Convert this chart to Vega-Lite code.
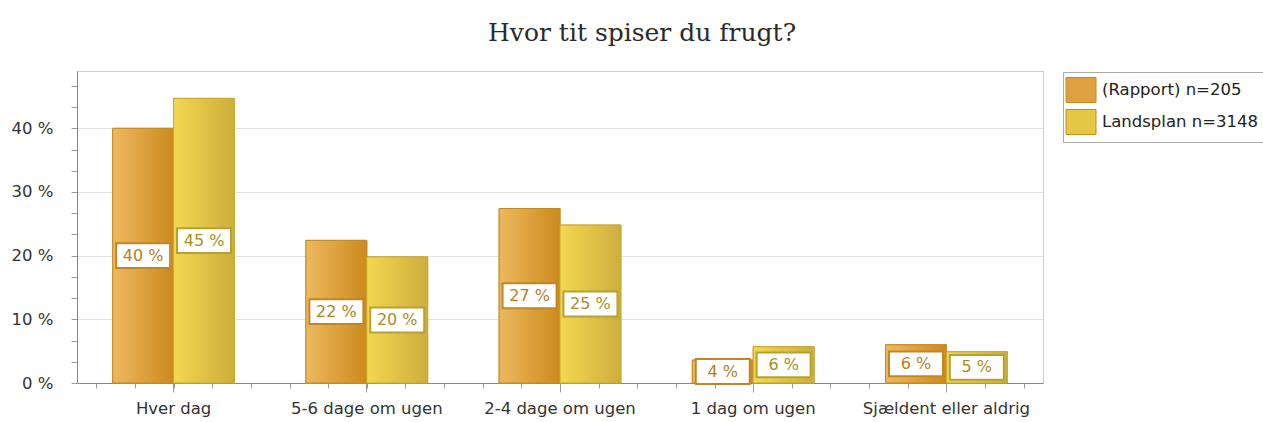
{
  "$schema": "https://vega.github.io/schema/vega-lite/v6.json",
  "width": 966,
  "height": 312,
  "autosize": "none",
  "padding": {"left": 77, "top": 71, "right": 220, "bottom": 39},
  "background": "white",
  "title": {
    "text": "Hvor tit spiser du frugt?",
    "font": "DejaVu Serif",
    "fontSize": 25,
    "fontWeight": "normal",
    "color": "#2a2a2a",
    "anchor": "middle",
    "dx": 82,
    "offset": 25
  },
  "config": {
    "view": {"stroke": "#cccccc"},
    "font": "DejaVu Sans"
  },
  "data": {
    "values": [
      {"cat": "Hver dag", "series": "(Rapport) n=205", "value": 40.0, "label": "40 %"},
      {"cat": "Hver dag", "series": "Landsplan n=3148", "value": 44.7, "label": "45 %"},
      {"cat": "5-6 dage om ugen", "series": "(Rapport) n=205", "value": 22.4, "label": "22 %"},
      {"cat": "5-6 dage om ugen", "series": "Landsplan n=3148", "value": 19.8, "label": "20 %"},
      {"cat": "2-4 dage om ugen", "series": "(Rapport) n=205", "value": 27.4, "label": "27 %"},
      {"cat": "2-4 dage om ugen", "series": "Landsplan n=3148", "value": 24.8, "label": "25 %"},
      {"cat": "1 dag om ugen", "series": "(Rapport) n=205", "value": 3.6, "label": "4 %"},
      {"cat": "1 dag om ugen", "series": "Landsplan n=3148", "value": 5.7, "label": "6 %"},
      {"cat": "Sjældent eller aldrig", "series": "(Rapport) n=205", "value": 6.0, "label": "6 %"},
      {"cat": "Sjældent eller aldrig", "series": "Landsplan n=3148", "value": 4.9, "label": "5 %"}
    ]
  },
  "resolve": {"scale": {"x": "independent"}, "axis": {"x": "independent"}},
  "layer": [
    {
      "resolve": {"scale": {"y": "independent"}, "axis": {"y": "independent"}},
      "encoding": {
        "x": {
          "field": "cat",
          "type": "nominal",
          "sort": null,
          "title": null,
          "scale": {"paddingInner": 0.37, "paddingOuter": 0.185},
          "axis": {
            "orient": "bottom",
            "labelAngle": 0,
            "labelFont": "DejaVu Sans",
            "labelFontSize": 16.5,
            "labelColor": "#333333",
            "labelPadding": 8,
            "tickSize": 9,
            "tickColor": "#999999",
            "domainColor": "#888888",
            "grid": false
          }
        },
        "xOffset": {"field": "series", "type": "nominal", "sort": null}
      },
      "layer": [
        {
          "encoding": {
            "y": {
              "field": "value",
              "type": "quantitative",
              "title": null,
              "scale": {"domain": [0, 49], "nice": false},
              "axis": {
                "values": [0, 3.3333, 6.6667, 10, 13.3333, 16.6667, 20, 23.3333, 26.6667, 30, 33.3333, 36.6667, 40, 43.3333, 46.6667],
                "labelExpr": "abs(datum.value/10 - round(datum.value/10)) < 0.001 ? format(datum.value, 'd') + ' %' : ''",
                "labelFont": "DejaVu Sans",
                "labelFontSize": 16.5,
                "labelColor": "#333333",
                "labelPadding": 18,
                "tickSize": 6,
                "tickColor": "#999999",
                "domainColor": "#888888",
                "grid": true,
                "gridColor": {"condition": {"test": "abs(datum.value/10 - round(datum.value/10)) < 0.001", "value": "#e2e2e2"}, "value": "transparent"}
              }
            }
          },
          "layer": [
            {
              "mark": {"type": "bar", "stroke": "#c8901f", "strokeWidth": 1},
              "encoding": {
                "color": {
                  "field": "series",
                  "type": "nominal",
                  "sort": null,
                  "scale": {"range": ["#dea040", "#e4c845"]},
                  "legend": {
                    "title": null,
                    "orient": "none",
                    "legendX": 986,
                    "legendY": 1,
                    "strokeColor": "#aaaaaa",
                    "fillColor": "white",
                    "padding": 5,
                    "symbolType": "M-1.2,-1H1.2V1H-1.2Z",
                    "symbolSize": 625,
                    "symbolStrokeColor": "#c09020",
                    "symbolStrokeWidth": 1,
                    "labelFont": "DejaVu Sans",
                    "labelFontSize": 16.5,
                    "labelColor": "#222222",
                    "labelOffset": 8,
                    "rowPadding": 2,
                    "labelLimit": 300
                  }
                }
              }
            },
            {
              "transform": [{"filter": "datum.series === '(Rapport) n=205'"}],
              "mark": {
                "type": "bar",
                "stroke": "#c68a24",
                "strokeWidth": 1,
                "fill": {
                  "gradient": "linear",
                  "x1": 0, "y1": 0, "x2": 1, "y2": 0,
                  "stops": [
                    {"offset": 0, "color": "#edb95e"},
                    {"offset": 1, "color": "#cc8a1e"}
                  ]
                }
              },
              "encoding": {"y": {"field": "value", "type": "quantitative"}}
            },
            {
              "transform": [{"filter": "datum.series === 'Landsplan n=3148'"}],
              "mark": {
                "type": "bar",
                "stroke": "#c9aa30",
                "strokeWidth": 1,
                "fill": {
                  "gradient": "linear",
                  "x1": 0, "y1": 0, "x2": 1, "y2": 0,
                  "stops": [
                    {"offset": 0, "color": "#f2d852"},
                    {"offset": 1, "color": "#ccae3c"}
                  ]
                }
              },
              "encoding": {"y": {"field": "value", "type": "quantitative"}}
            }
          ]
        },
        {
          "encoding": {
            "y": {
              "field": "value",
              "type": "quantitative",
              "scale": {"domain": [0, 98], "nice": false},
              "axis": null
            }
          },
          "layer": [
            {
              "mark": {
                "type": "point",
                "shape": "M-1,-0.46H1V0.46H-1Z",
                "size": 2916,
                "filled": true,
                "fill": "white",
                "strokeWidth": 2,
                "opacity": 1
              },
              "encoding": {
                "stroke": {
                  "condition": {"test": "datum.series === '(Rapport) n=205'", "value": "#c08628"},
                  "value": "#b9a131"
                }
              }
            },
            {
              "mark": {
                "type": "text",
                "font": "DejaVu Sans",
                "fontSize": 16,
                "align": "center",
                "baseline": "middle"
              },
              "encoding": {
                "text": {"field": "label"},
                "color": {
                  "condition": {"test": "datum.series === '(Rapport) n=205'", "value": "#b87e1e"},
                  "value": "#a89022"
                }
              }
            }
          ]
        }
      ]
    },
    {
      "mark": {"type": "rule", "strokeOpacity": 0},
      "encoding": {
        "x": {
          "datum": 0,
          "type": "quantitative",
          "scale": {"domain": [0, 25], "nice": false, "zero": false},
          "axis": {
            "orient": "bottom",
            "title": null,
            "values": [0.5, 1.5, 2.5, 3.5, 4.5, 5.5, 6.5, 7.5, 8.5, 9.5, 10.5, 11.5, 12.5, 13.5, 14.5, 15.5, 16.5, 17.5, 18.5, 19.5, 20.5, 21.5, 22.5, 23.5, 24.5],
            "labels": false,
            "domain": false,
            "grid": false,
            "tickSize": 5,
            "tickColor": "#999999"
          }
        }
      }
    }
  ]
}
